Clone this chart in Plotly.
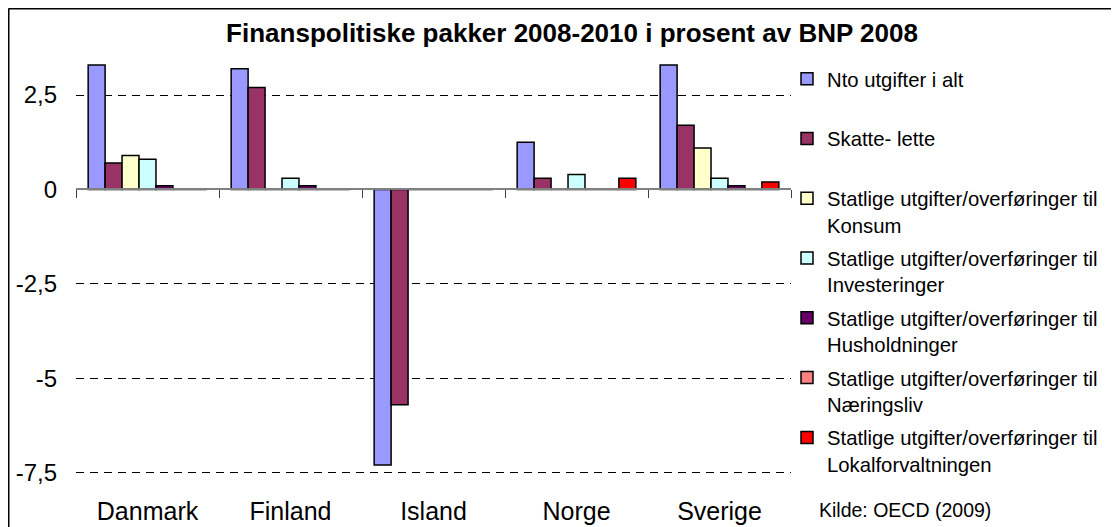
import plotly.graph_objects as go

countries = ["Danmark", "Finland", "Island", "Norge", "Sverige"]
series_names = [
    "Nto utgifter i alt<br> ",
    "Skatte- lette<br> ",
    "Statlige utgifter/overføringer til<br>Konsum",
    "Statlige utgifter/overføringer til<br>Investeringer",
    "Statlige utgifter/overføringer til<br>Husholdninger",
    "Statlige utgifter/overføringer til<br>Næringsliv",
    "Statlige utgifter/overføringer til<br>Lokalforvaltningen",
]
nto = [3.3, 3.2, -7.3, 1.25, 3.3]
skatte = [0.7, 2.7, -5.7, 0.3, 1.7]
konsum = [0.9, 0.0, 0.0, 0.0, 1.1]
invest = [0.8, 0.3, 0.0, 0.4, 0.3]
hush = [0.1, 0.1, 0.0, 0.0, 0.1]
naering = [0.0, 0.0, 0.0, 0.0, 0.0]
lokal = [0.0, 0.0, 0.0, 0.3, 0.2]
colors = ["#9999FF", "#993366", "#FFFFCC", "#CCFFFF", "#660066", "#FF8080", "#FF0000"]

ytick_vals = [-7.5, -5, -2.5, 0, 2.5]
ytick_text = ["-7,5", "-5", "-2,5", "0", "2,5"]

title_text = "Finanspolitiske pakker 2008-2010 i prosent av BNP 2008"
source_text = "Kilde: OECD (2009)"

YMIN, YMAX = -7.8, 3.8
W, H = 1111, 519          # page body adds an 8px margin
ML, MR, MT, MB = 68, 328, 38, 43
FONT = "Liberation Sans, Arial, sans-serif"
pw = W - ML - MR
ph = H - MT - MB

fig = go.Figure()
all_series = [nto, skatte, konsum, invest, hush, naering, lokal]
for i, (name, vals, col) in enumerate(zip(series_names, all_series, colors)):
    fig.add_trace(go.Bar(
        x=countries, y=vals, name=name, legendgroup=f"g{i}",
        marker=dict(color=col, line=dict(color="black", width=1.5)),
    ))

# dummy trace for the zero-crossing category axis with boundary ticks
fig.add_trace(go.Scatter(x=countries, y=[None] * len(countries), xaxis="x2",
                         showlegend=False, hoverinfo="skip", mode="markers"))

zero_pos = (0 - YMIN) / (YMAX - YMIN)

fig.update_layout(
    width=W, height=H,
    margin=dict(l=ML, r=MR, t=MT, b=MB, autoexpand=False),
    paper_bgcolor="white", plot_bgcolor="white",
    font=dict(family=FONT, color="black"),
    barmode="group", bargap=0.17, bargroupgap=0,
    title=dict(text="<b>" + title_text + "</b>", x=564 / W, xref="container",
               xanchor="center", y=1 - 25 / H, yref="container", yanchor="middle",
               font=dict(size=26, family=FONT, color="black")),
    xaxis=dict(showline=False, ticks="", showgrid=False, zeroline=False, automargin=False,
               tickfont=dict(size=25), ticklabelstandoff=10),
    xaxis2=dict(overlaying="x", anchor="free", position=zero_pos, side="bottom",
                matches="x", showline=True, linecolor="#808080", linewidth=2, automargin=False,
                ticks="outside", tickson="boundaries", ticklen=8, tickcolor="#404040",
                showticklabels=False, showgrid=False, zeroline=False),
    yaxis=dict(range=[YMIN, YMAX], tickvals=ytick_vals, ticktext=ytick_text,
               showgrid=True, gridcolor="black", gridwidth=1, griddash="8px,6px",
               zeroline=False, showline=False, ticks="", automargin=False,
               tickfont=dict(size=24), ticklabelstandoff=18),
    legend=dict(xref="container", yref="container", x=779 / W, xanchor="left",
                y=1 - 51 / H, yanchor="top", maxheight=470,
                font=dict(size=20.3, family=FONT), valign="top",
                tracegroupgap=4, bgcolor="rgba(0,0,0,0)"),
    showlegend=True,
)

fig.add_annotation(text=source_text, xref="paper", yref="paper",
                   x=(809 - ML) / pw, y=-(502 - (H - MB)) / ph,
                   xanchor="left", yanchor="middle", showarrow=False,
                   font=dict(size=19.5, family=FONT))

# outer frame (top and left edges)
fx0 = (0.5 - ML) / pw
fy1 = 1 + (MT - 0.5) / ph
fig.add_shape(type="line", xref="paper", yref="paper", x0=fx0, x1=fx0, y0=-MB / ph - 0.02, y1=fy1,
              line=dict(color="black", width=2))
fig.add_shape(type="line", xref="paper", yref="paper", x0=fx0, x1=1 + MR / pw + 0.02, y0=fy1, y1=fy1,
              line=dict(color="black", width=2))

fig.write_html("out.html")
